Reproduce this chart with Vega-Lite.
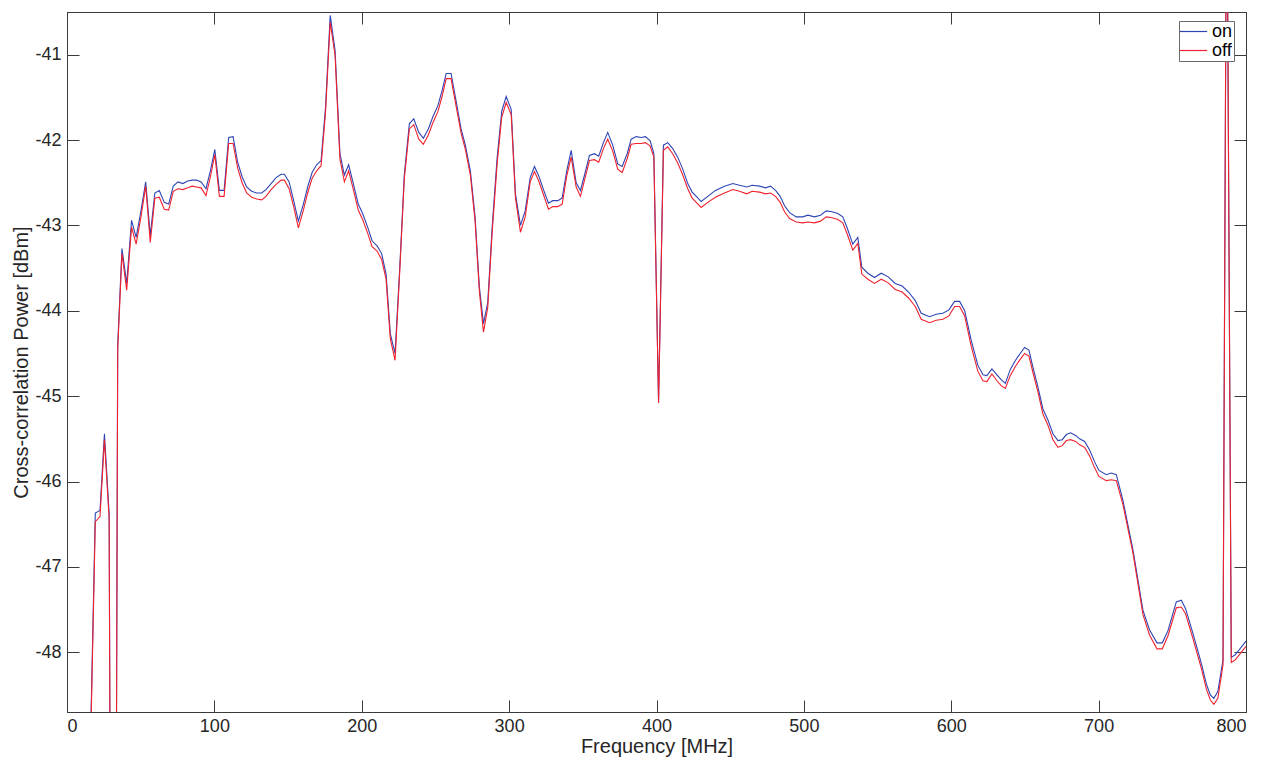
{
  "$schema": "https://vega.github.io/schema/vega-lite/v6.json",
  "width": 1179,
  "height": 700,
  "autosize": {"type": "none"},
  "padding": {"left": 67, "top": 12, "right": 27, "bottom": 50},
  "background": "white",
  "config": {
    "view": {"stroke": "#3a3a3a", "strokeWidth": 1},
    "font": "Liberation Sans",
    "axis": {
      "grid": false,
      "domainColor": "#3a3a3a",
      "tickColor": "#3a3a3a",
      "tickSize": -12,
      "labelColor": "#262626",
      "labelFontSize": 18,
      "labelFont": "Liberation Sans",
      "titleColor": "#262626",
      "titleFontSize": 20,
      "titleFont": "Liberation Sans",
      "titleFontWeight": "normal"
    },
    "legend": {
      "orient": "none",
      "legendX": 1112,
      "legendY": 9,
      "fillColor": "white",
      "strokeColor": "#6a6a6a",
      "padding": 1,
      "rowPadding": -4,
      "symbolOffset": 4,
      "symbolType": "M-1.6,0H1.6",
      "symbolSize": 290,
      "symbolStrokeWidth": 1.2,
      "labelOffset": 9,
      "labelFontSize": 18,
      "labelColor": "black",
      "labelFont": "Liberation Sans",
      "title": null
    }
  },
  "data": {
    "values": [
      {"f": 16.0, "on": -49.0, "off": -49.1},
      {"f": 19.2, "on": -46.37, "off": -46.47},
      {"f": 22.4, "on": -46.34, "off": -46.41},
      {"f": 25.4, "on": -45.44, "off": -45.51},
      {"f": 28.6, "on": -46.38, "off": -46.44},
      {"f": 31.5, "on": -60, "off": -60},
      {"f": 34.4, "on": -44.40, "off": -44.46},
      {"f": 37.3, "on": -43.27, "off": -43.33},
      {"f": 40.5, "on": -43.68, "off": -43.76},
      {"f": 43.8, "on": -42.94, "off": -43.02},
      {"f": 46.9, "on": -43.14, "off": -43.22},
      {"f": 50.2, "on": -42.83, "off": -42.90},
      {"f": 53.4, "on": -42.49, "off": -42.54},
      {"f": 56.5, "on": -43.12, "off": -43.20},
      {"f": 59.6, "on": -42.62, "off": -42.68},
      {"f": 62.6, "on": -42.59, "off": -42.67},
      {"f": 66.0, "on": -42.73, "off": -42.81},
      {"f": 69.0, "on": -42.75, "off": -42.82},
      {"f": 72.1, "on": -42.54, "off": -42.60},
      {"f": 75.3, "on": -42.49, "off": -42.57},
      {"f": 78.6, "on": -42.51, "off": -42.58},
      {"f": 81.9, "on": -42.48, "off": -42.56},
      {"f": 84.9, "on": -42.47, "off": -42.54},
      {"f": 88.0, "on": -42.47, "off": -42.55},
      {"f": 91.0, "on": -42.49, "off": -42.56},
      {"f": 94.3, "on": -42.57, "off": -42.65},
      {"f": 97.3, "on": -42.36, "off": -42.43},
      {"f": 100.3, "on": -42.11, "off": -42.17},
      {"f": 103.4, "on": -42.59, "off": -42.66},
      {"f": 106.6, "on": -42.59, "off": -42.66},
      {"f": 109.7, "on": -41.97, "off": -42.04},
      {"f": 112.7, "on": -41.96, "off": -42.04},
      {"f": 115.8, "on": -42.26, "off": -42.33},
      {"f": 118.8, "on": -42.43, "off": -42.50},
      {"f": 121.9, "on": -42.55, "off": -42.62},
      {"f": 125.3, "on": -42.60, "off": -42.67},
      {"f": 128.7, "on": -42.62, "off": -42.69},
      {"f": 132.1, "on": -42.62, "off": -42.70},
      {"f": 135.0, "on": -42.58, "off": -42.66},
      {"f": 138.5, "on": -42.51, "off": -42.58},
      {"f": 141.9, "on": -42.44, "off": -42.52},
      {"f": 145.3, "on": -42.40, "off": -42.47},
      {"f": 147.5, "on": -42.40, "off": -42.47},
      {"f": 150.7, "on": -42.49, "off": -42.57},
      {"f": 153.8, "on": -42.71, "off": -42.78},
      {"f": 157.0, "on": -42.95, "off": -43.03},
      {"f": 160.4, "on": -42.75, "off": -42.82},
      {"f": 163.3, "on": -42.55, "off": -42.62},
      {"f": 166.3, "on": -42.38, "off": -42.45},
      {"f": 169.4, "on": -42.29, "off": -42.36},
      {"f": 172.4, "on": -42.24, "off": -42.30},
      {"f": 175.4, "on": -41.62, "off": -41.68},
      {"f": 178.6, "on": -40.54, "off": -40.62},
      {"f": 181.9, "on": -40.95, "off": -41.01},
      {"f": 185.2, "on": -42.16, "off": -42.22},
      {"f": 188.2, "on": -42.41, "off": -42.49},
      {"f": 191.1, "on": -42.29, "off": -42.36},
      {"f": 194.3, "on": -42.51, "off": -42.58},
      {"f": 197.6, "on": -42.75, "off": -42.82},
      {"f": 200.6, "on": -42.86, "off": -42.93},
      {"f": 204.0, "on": -43.02, "off": -43.09},
      {"f": 207.0, "on": -43.18, "off": -43.25},
      {"f": 210.4, "on": -43.24, "off": -43.30},
      {"f": 213.5, "on": -43.33, "off": -43.40},
      {"f": 216.5, "on": -43.57, "off": -43.63},
      {"f": 219.4, "on": -44.27, "off": -44.33},
      {"f": 222.6, "on": -44.50, "off": -44.58},
      {"f": 225.8, "on": -43.49, "off": -43.53},
      {"f": 228.9, "on": -42.40, "off": -42.45},
      {"f": 232.3, "on": -41.81, "off": -41.87},
      {"f": 235.3, "on": -41.75, "off": -41.82},
      {"f": 238.7, "on": -41.91, "off": -41.99},
      {"f": 241.8, "on": -41.98, "off": -42.05},
      {"f": 245.2, "on": -41.87, "off": -41.94},
      {"f": 248.2, "on": -41.73, "off": -41.80},
      {"f": 251.6, "on": -41.60, "off": -41.67},
      {"f": 254.5, "on": -41.42, "off": -41.49},
      {"f": 257.3, "on": -41.22, "off": -41.28},
      {"f": 260.6, "on": -41.22, "off": -41.28},
      {"f": 264.0, "on": -41.54, "off": -41.60},
      {"f": 267.4, "on": -41.87, "off": -41.92},
      {"f": 270.3, "on": -42.06, "off": -42.11},
      {"f": 273.7, "on": -42.36, "off": -42.41},
      {"f": 276.9, "on": -42.90, "off": -42.95},
      {"f": 279.8, "on": -43.72, "off": -43.77},
      {"f": 282.6, "on": -44.15, "off": -44.25},
      {"f": 285.5, "on": -43.90, "off": -43.96},
      {"f": 288.5, "on": -43.02, "off": -43.08},
      {"f": 291.9, "on": -42.20, "off": -42.27},
      {"f": 295.0, "on": -41.66, "off": -41.73},
      {"f": 298.0, "on": -41.49, "off": -41.56},
      {"f": 301.4, "on": -41.64, "off": -41.70},
      {"f": 304.3, "on": -42.63, "off": -42.68},
      {"f": 307.7, "on": -43.00, "off": -43.08},
      {"f": 310.9, "on": -42.83, "off": -42.90},
      {"f": 314.3, "on": -42.44, "off": -42.49},
      {"f": 317.2, "on": -42.31, "off": -42.37},
      {"f": 320.1, "on": -42.42, "off": -42.48},
      {"f": 323.5, "on": -42.59, "off": -42.65},
      {"f": 326.7, "on": -42.74, "off": -42.81},
      {"f": 329.6, "on": -42.71, "off": -42.78},
      {"f": 333.0, "on": -42.71, "off": -42.78},
      {"f": 336.0, "on": -42.68, "off": -42.75},
      {"f": 339.1, "on": -42.36, "off": -42.42},
      {"f": 342.1, "on": -42.12, "off": -42.20},
      {"f": 345.5, "on": -42.50, "off": -42.55},
      {"f": 348.4, "on": -42.59, "off": -42.66},
      {"f": 351.6, "on": -42.38, "off": -42.44},
      {"f": 354.5, "on": -42.18, "off": -42.24},
      {"f": 357.9, "on": -42.16, "off": -42.23},
      {"f": 360.8, "on": -42.19, "off": -42.26},
      {"f": 364.0, "on": -42.03, "off": -42.10},
      {"f": 366.9, "on": -41.91, "off": -41.99},
      {"f": 370.3, "on": -42.06, "off": -42.13},
      {"f": 373.7, "on": -42.28, "off": -42.34},
      {"f": 376.7, "on": -42.31, "off": -42.38},
      {"f": 380.1, "on": -42.16, "off": -42.22},
      {"f": 382.8, "on": -41.99, "off": -42.05},
      {"f": 386.2, "on": -41.96, "off": -42.04},
      {"f": 389.6, "on": -41.97, "off": -42.04},
      {"f": 392.5, "on": -41.96, "off": -42.03},
      {"f": 395.7, "on": -42.01, "off": -42.07},
      {"f": 398.2, "on": -42.16, "off": -42.20},
      {"f": 401.4, "on": -45.07, "off": -45.08},
      {"f": 404.7, "on": -42.06, "off": -42.12},
      {"f": 407.6, "on": -42.03, "off": -42.08},
      {"f": 411.0, "on": -42.10, "off": -42.16},
      {"f": 414.4, "on": -42.20, "off": -42.27},
      {"f": 417.8, "on": -42.34, "off": -42.41},
      {"f": 421.2, "on": -42.51, "off": -42.57},
      {"f": 424.2, "on": -42.61, "off": -42.68},
      {"f": 427.5, "on": -42.67, "off": -42.74},
      {"f": 430.3, "on": -42.72, "off": -42.79},
      {"f": 434.8, "on": -42.66, "off": -42.73},
      {"f": 440.0, "on": -42.59, "off": -42.67},
      {"f": 446.1, "on": -42.54, "off": -42.62},
      {"f": 451.8, "on": -42.51, "off": -42.58},
      {"f": 456.3, "on": -42.53, "off": -42.60},
      {"f": 461.3, "on": -42.55, "off": -42.63},
      {"f": 464.9, "on": -42.53, "off": -42.60},
      {"f": 469.9, "on": -42.54, "off": -42.61},
      {"f": 474.0, "on": -42.56, "off": -42.63},
      {"f": 477.4, "on": -42.54, "off": -42.62},
      {"f": 480.8, "on": -42.59, "off": -42.66},
      {"f": 483.9, "on": -42.66, "off": -42.73},
      {"f": 486.9, "on": -42.77, "off": -42.84},
      {"f": 490.3, "on": -42.85, "off": -42.92},
      {"f": 494.8, "on": -42.90, "off": -42.96},
      {"f": 499.3, "on": -42.90, "off": -42.97},
      {"f": 502.7, "on": -42.88, "off": -42.96},
      {"f": 507.2, "on": -42.90, "off": -42.97},
      {"f": 511.3, "on": -42.88, "off": -42.95},
      {"f": 515.2, "on": -42.83, "off": -42.90},
      {"f": 519.2, "on": -42.84, "off": -42.91},
      {"f": 523.0, "on": -42.86, "off": -42.93},
      {"f": 526.4, "on": -42.90, "off": -42.97},
      {"f": 529.4, "on": -43.03, "off": -43.10},
      {"f": 533.2, "on": -43.22, "off": -43.29},
      {"f": 536.6, "on": -43.14, "off": -43.21},
      {"f": 539.3, "on": -43.49, "off": -43.57},
      {"f": 543.4, "on": -43.56, "off": -43.63},
      {"f": 547.9, "on": -43.61, "off": -43.68},
      {"f": 552.5, "on": -43.56, "off": -43.63},
      {"f": 557.0, "on": -43.60, "off": -43.67},
      {"f": 562.0, "on": -43.68, "off": -43.75},
      {"f": 566.7, "on": -43.71, "off": -43.78},
      {"f": 571.0, "on": -43.78, "off": -43.85},
      {"f": 575.6, "on": -43.88, "off": -43.95},
      {"f": 579.6, "on": -44.03, "off": -44.10},
      {"f": 585.3, "on": -44.07, "off": -44.14},
      {"f": 589.8, "on": -44.04, "off": -44.11},
      {"f": 594.3, "on": -44.03, "off": -44.10},
      {"f": 598.4, "on": -43.99, "off": -44.06},
      {"f": 602.3, "on": -43.89, "off": -43.95},
      {"f": 605.7, "on": -43.89, "off": -43.95},
      {"f": 609.1, "on": -44.00, "off": -44.06},
      {"f": 613.6, "on": -44.35, "off": -44.42},
      {"f": 618.1, "on": -44.64, "off": -44.71},
      {"f": 621.5, "on": -44.75, "off": -44.82},
      {"f": 624.2, "on": -44.76, "off": -44.83},
      {"f": 627.6, "on": -44.68, "off": -44.74},
      {"f": 631.0, "on": -44.75, "off": -44.82},
      {"f": 634.0, "on": -44.81, "off": -44.88},
      {"f": 636.7, "on": -44.85, "off": -44.91},
      {"f": 640.0, "on": -44.69, "off": -44.76},
      {"f": 643.6, "on": -44.58, "off": -44.65},
      {"f": 646.8, "on": -44.50, "off": -44.57},
      {"f": 649.8, "on": -44.43, "off": -44.50},
      {"f": 652.7, "on": -44.46, "off": -44.53},
      {"f": 655.4, "on": -44.66, "off": -44.72},
      {"f": 658.8, "on": -44.89, "off": -44.95},
      {"f": 662.2, "on": -45.15, "off": -45.21},
      {"f": 665.6, "on": -45.28, "off": -45.34},
      {"f": 669.0, "on": -45.44, "off": -45.51},
      {"f": 672.4, "on": -45.52, "off": -45.60},
      {"f": 675.3, "on": -45.51, "off": -45.58},
      {"f": 678.1, "on": -45.45, "off": -45.52},
      {"f": 681.0, "on": -45.43, "off": -45.51},
      {"f": 684.4, "on": -45.46, "off": -45.53},
      {"f": 687.1, "on": -45.50, "off": -45.57},
      {"f": 690.5, "on": -45.53, "off": -45.60},
      {"f": 693.9, "on": -45.63, "off": -45.70},
      {"f": 697.3, "on": -45.77, "off": -45.84},
      {"f": 700.2, "on": -45.87, "off": -45.94},
      {"f": 705.2, "on": -45.92, "off": -45.99},
      {"f": 708.6, "on": -45.90, "off": -45.98},
      {"f": 712.0, "on": -45.92, "off": -45.99},
      {"f": 716.5, "on": -46.22, "off": -46.27},
      {"f": 723.3, "on": -46.80, "off": -46.84},
      {"f": 730.1, "on": -47.51, "off": -47.56},
      {"f": 734.6, "on": -47.74, "off": -47.80},
      {"f": 739.6, "on": -47.89, "off": -47.96},
      {"f": 743.2, "on": -47.89, "off": -47.96},
      {"f": 747.0, "on": -47.75, "off": -47.81},
      {"f": 752.7, "on": -47.41, "off": -47.48},
      {"f": 756.1, "on": -47.39, "off": -47.47},
      {"f": 759.0, "on": -47.49, "off": -47.55},
      {"f": 764.0, "on": -47.78, "off": -47.84},
      {"f": 769.7, "on": -48.13, "off": -48.19},
      {"f": 773.1, "on": -48.37, "off": -48.43},
      {"f": 775.8, "on": -48.50, "off": -48.56},
      {"f": 778.2, "on": -48.54, "off": -48.61},
      {"f": 780.9, "on": -48.46, "off": -48.54},
      {"f": 784.4, "on": -48.09, "off": -48.15},
      {"f": 786.9, "on": -38.3, "off": -38.3},
      {"f": 790.0, "on": -48.06, "off": -48.12},
      {"f": 792.7, "on": -48.03, "off": -48.09},
      {"f": 800.0, "on": -47.87, "off": -47.93}
    ]
  },
  "transform": [{"fold": ["on", "off"], "as": ["series", "power"]}],
  "layer": [
    {
      "transform": [{"filter": "datum.series === 'on'"}],
      "mark": {"type": "line", "clip": true, "strokeWidth": 1.1, "interpolate": "linear"},
      "encoding": {
        "x": {
          "field": "f", "type": "quantitative",
          "scale": {"domain": [0, 800], "nice": false, "zero": false},
          "axis": {"orient": "bottom", "values": [0, 100, 200, 300, 400, 500, 600, 700, 800], "title": "Frequency [MHz]", "labelPadding": 17, "titlePadding": 1}
        },
        "y": {
          "field": "power", "type": "quantitative",
          "scale": {"domain": [-48.7, -40.5], "nice": false, "zero": false},
          "axis": {"orient": "left", "values": [-48, -47, -46, -45, -44, -43, -42, -41], "labelExpr": "replace(datum.label, '−', '-')", "title": "Cross-correlation Power [dBm]", "labelPadding": 18, "titlePadding": 3}
        },
        "color": {
          "field": "series", "type": "nominal",
          "scale": {"domain": ["on", "off"], "range": ["#2f44b4", "#f0222e"]},
          "legend": {"title": null}
        }
      }
    },
    {
      "transform": [{"filter": "datum.series === 'off'"}],
      "mark": {"type": "line", "clip": true, "strokeWidth": 1.1, "interpolate": "linear"},
      "encoding": {
        "x": {
          "field": "f", "type": "quantitative",
          "axis": {"orient": "top", "values": [0, 100, 200, 300, 400, 500, 600, 700, 800], "labels": false, "title": null}
        },
        "y": {
          "field": "power", "type": "quantitative",
          "axis": {"orient": "right", "values": [-48, -47, -46, -45, -44, -43, -42, -41], "labels": false, "title": null}
        },
        "color": {"field": "series", "type": "nominal"}
      }
    }
  ],
  "resolve": {"axis": {"x": "independent", "y": "independent"}}
}
